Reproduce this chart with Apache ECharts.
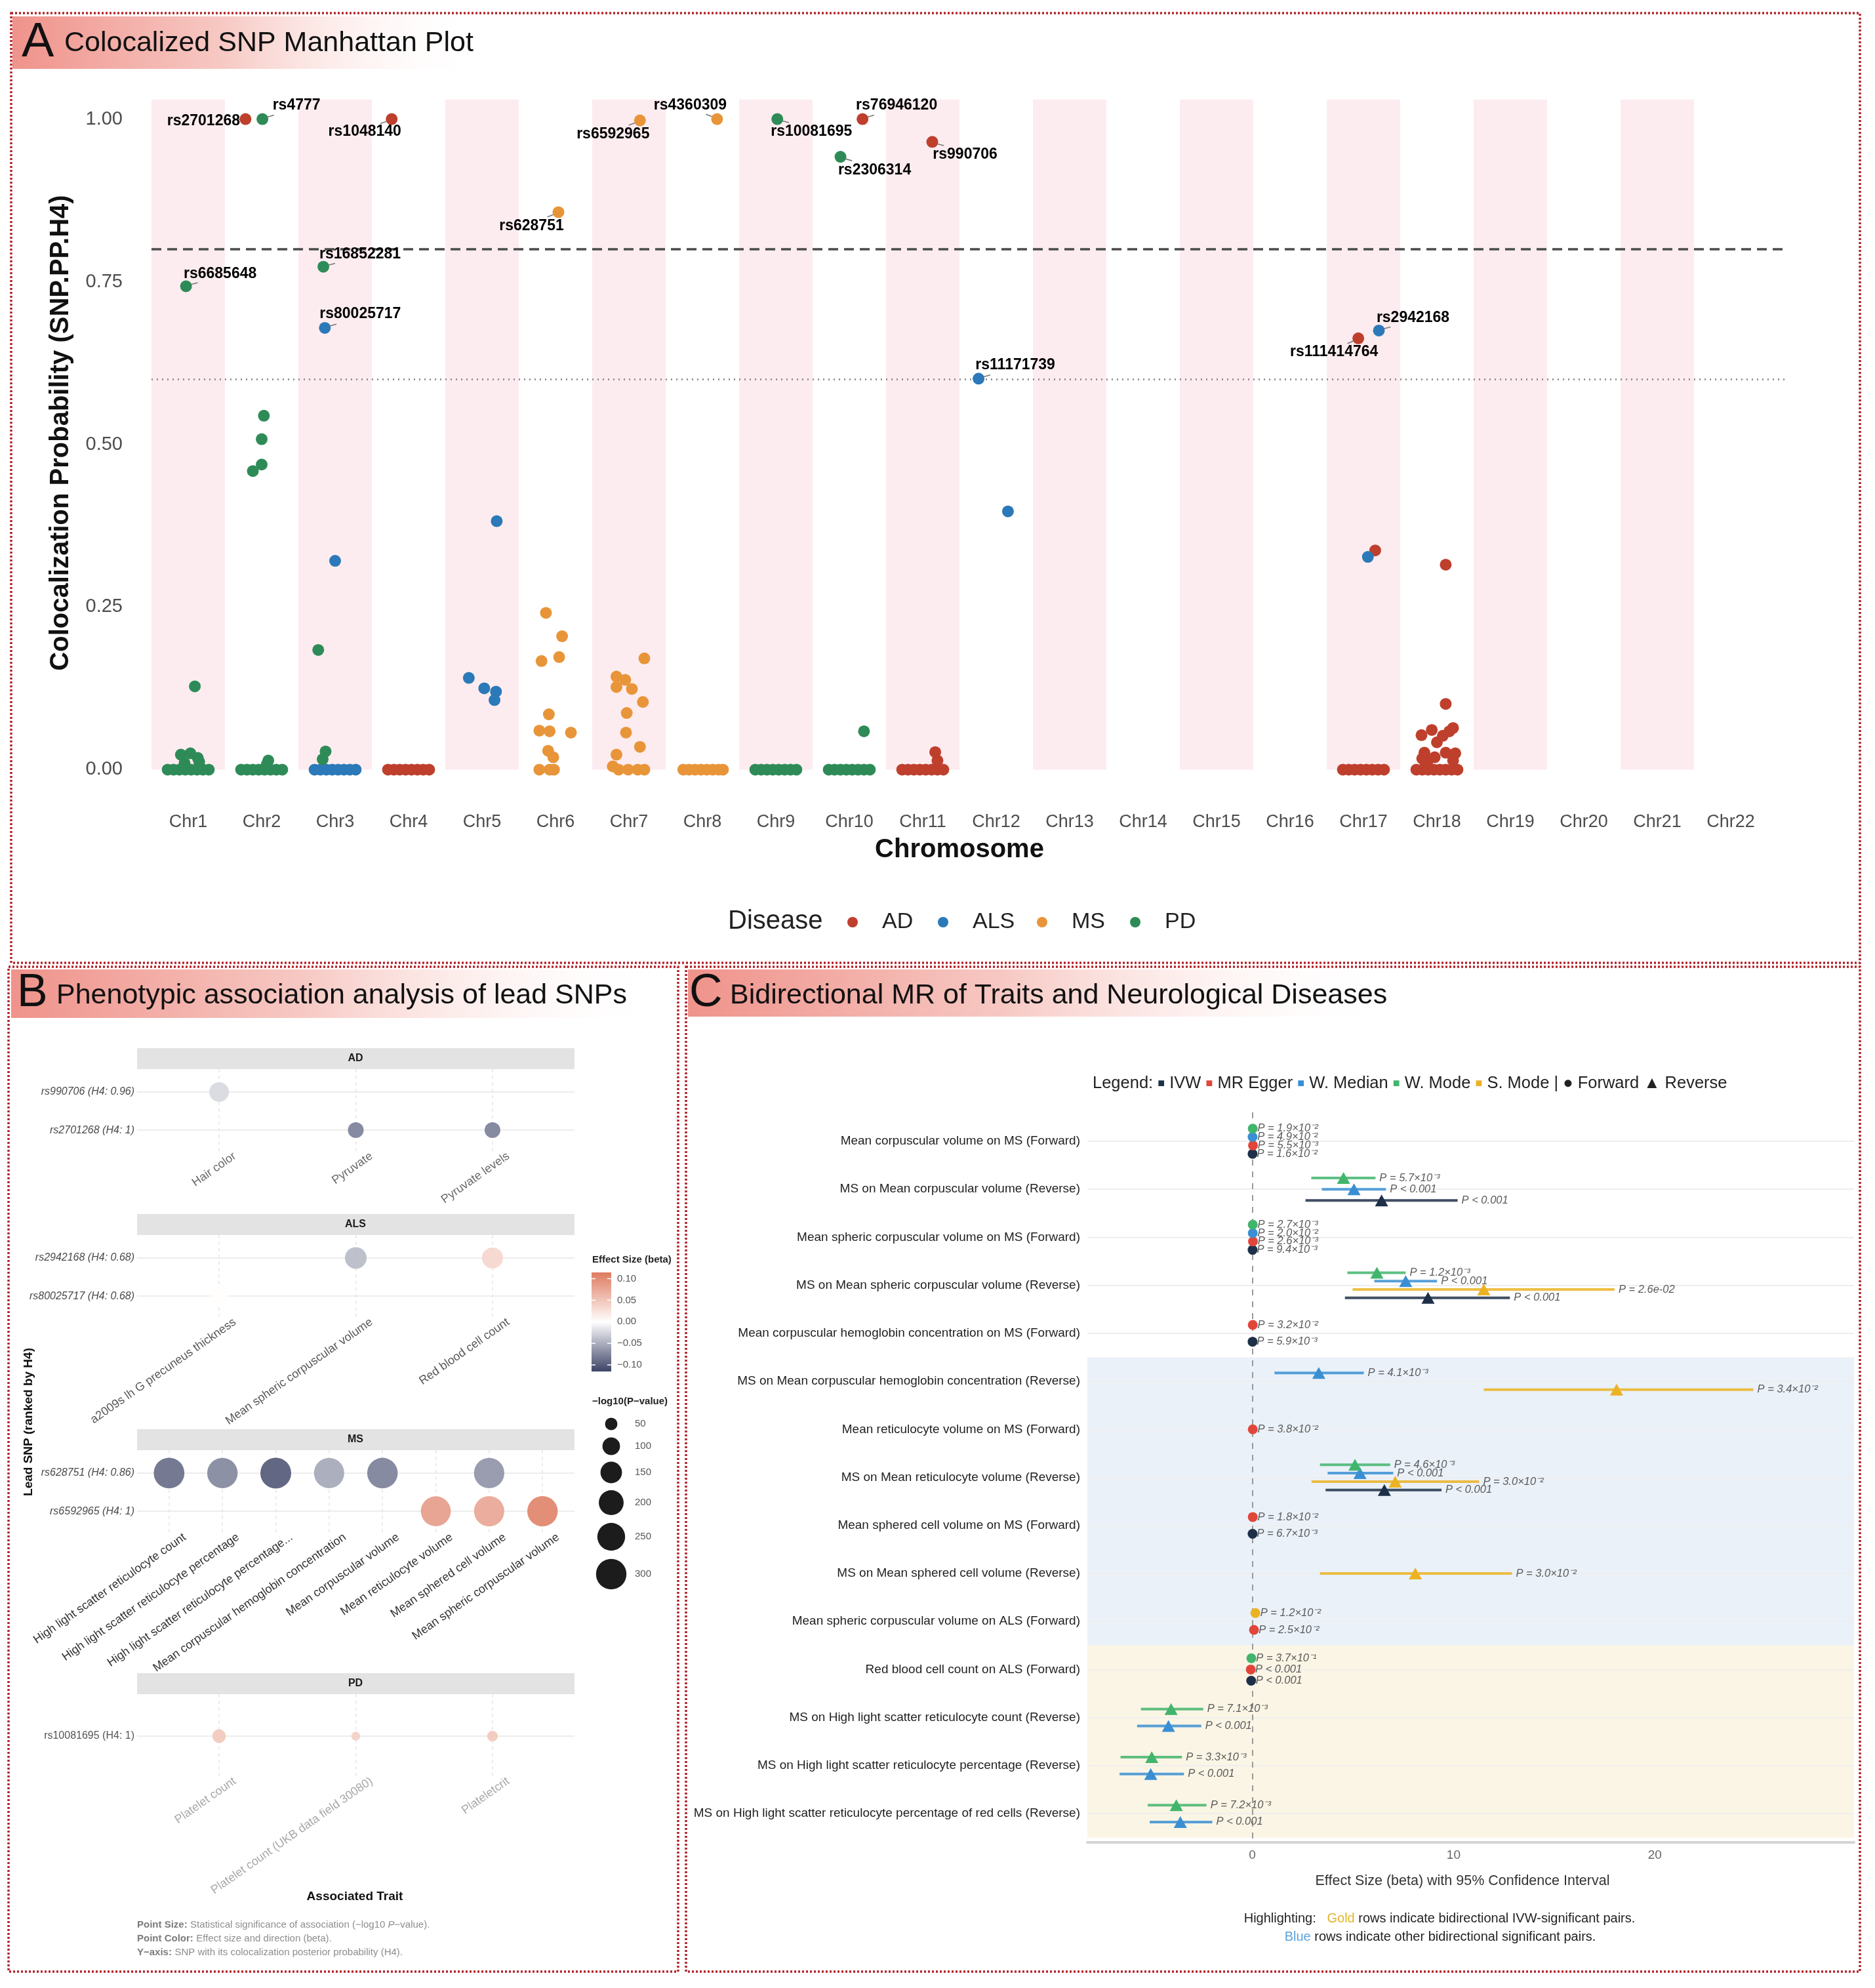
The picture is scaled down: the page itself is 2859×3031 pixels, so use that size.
<!DOCTYPE html>
<html><head><meta charset="utf-8">
<script src="https://cdn.jsdelivr.net/npm/echarts@6/dist/echarts.min.js"></script>
<style>html,body{margin:0;padding:0;background:#fff}#c{width:2859px;height:3031px}</style>
</head><body><div id="c"></div>
<script>
const FONT = '"Liberation Sans", Arial, Helvetica, sans-serif';

/* ================= Panel A data ================= */
const chromosomes = ['Chr1','Chr2','Chr3','Chr4','Chr5','Chr6','Chr7','Chr8','Chr9','Chr10','Chr11','Chr12','Chr13','Chr14','Chr15','Chr16','Chr17','Chr18','Chr19','Chr20','Chr21','Chr22'];
const shadedChromosomes = [1,3,5,7,9,11,13,15,17,19,21];
const diseases = ['AD','ALS','MS','PD'];
const adPoints = [
  [3.72,0],[3.8,0],[3.88,0],[3.96,0],[4.04,0],[4.12,0],[4.2,0],[4.28,0],
  [10.72,0],[10.8,0],[10.88,0],[10.96,0],[11.04,0],[11.12,0],[11.2,0],[11.28,0],[11.17,0.027],[11.2,0.014],
  [16.72,0],[16.8,0],[16.88,0],[16.96,0],[17.04,0],[17.12,0],[17.2,0],[17.28,0],[17.16,0.337],
  [17.72,0],[17.8,0],[17.88,0],[17.96,0],[18.04,0],[18.12,0],[18.2,0],[18.28,0],
  [18.12,0.315],[18.12,0.101],[17.79,0.053],[17.93,0.061],[18.22,0.064],[18.17,0.059],[18.08,0.052],[18.0,0.042],
  [17.83,0.026],[18.12,0.026],[18.25,0.025],[17.8,0.017],[17.97,0.019],[18.22,0.014],[17.87,0.012]
];
const alsPoints = [
  [2.72,0],[2.8,0],[2.88,0],[2.96,0],[3.04,0],[3.12,0],[3.2,0],[3.28,0],[3.0,0.321],
  [5.2,0.382],[4.82,0.141],[5.03,0.125],[5.19,0.12],[5.17,0.107],
  [12.16,0.397],[17.06,0.327]
];
const msPoints = [
  [5.87,0.241],[6.09,0.205],[5.81,0.167],[6.05,0.173],[5.91,0.085],[5.78,0.06],[5.92,0.059],[6.21,0.057],[5.9,0.029],[5.97,0.019],[5.78,0],[5.92,0],[5.98,0],
  [6.83,0.143],[6.95,0.138],[6.83,0.127],[7.04,0.124],[7.21,0.171],[7.19,0.104],[6.97,0.087],[6.96,0.057],[7.15,0.035],[6.83,0.023],[6.78,0.005],[6.86,0],[6.99,0],[7.12,0],[7.21,0],
  [7.74,0],[7.82,0],[7.9,0],[7.98,0],[8.06,0],[8.14,0],[8.22,0],[8.28,0]
];
const pdPoints = [
  [0.72,0],[0.8,0],[0.88,0],[0.96,0],[1.04,0],[1.12,0],[1.2,0],[1.28,0],
  [1.09,0.128],[0.9,0.023],[1.03,0.025],[1.13,0.018],[1.15,0.012],[0.95,0.01],
  [1.72,0],[1.8,0],[1.88,0],[1.96,0],[2.04,0],[2.12,0],[2.2,0],[2.28,0],
  [1.88,0.459],[2.0,0.469],[2.0,0.508],[2.03,0.544],[2.09,0.014],[2.07,0.008],
  [2.77,0.184],[2.87,0.028],[2.83,0.016],
  [8.72,0],[8.8,0],[8.88,0],[8.96,0],[9.04,0],[9.12,0],[9.2,0],[9.28,0],
  [9.72,0],[9.8,0],[9.88,0],[9.96,0],[10.04,0],[10.12,0],[10.2,0],[10.28,0],[10.2,0.059]
];
const leadNames   = ['rs2701268','rs4777','rs1048140','rs6592965','rs4360309','rs10081695','rs76946120','rs2306314','rs990706','rs628751','rs16852281','rs6685648','rs80025717','rs11171739','rs111414764','rs2942168'];
const leadDisease = ['AD','PD','AD','MS','MS','PD','AD','PD','AD','MS','PD','PD','ALS','ALS','AD','ALS'];
const leadX       = [1.78,2.01,3.77,7.15,8.2,9.02,10.18,9.88,11.13,6.04,2.84,0.97,2.86,11.76,16.93,17.21];
const leadY       = [1.0,1.0,1.0,0.998,1.0,1.0,1.0,0.942,0.965,0.857,0.773,0.743,0.679,0.601,0.663,0.675];

/* ================= Panel B data ================= */
const adSnps = ['rs990706 (H4: 0.96)','rs2701268 (H4: 1)'];
const adTraits = ['Hair color','Pyruvate','Pyruvate levels'];
const adAssoc = [[1,1,125,-0.02],[2,2,80,-0.065],[3,2,80,-0.065]];            // [trait, snp, -log10P, beta]
const alsSnps = ['rs2942168 (H4: 0.68)','rs80025717 (H4: 0.68)'];
const alsTraits = ['a2009s lh G precuneus thickness','Mean spheric corpuscular volume','Red blood cell count'];
const alsAssoc = [[1,2,120,0.001],[2,1,152,-0.035],[3,1,142,0.03]];
const msSnps = ['rs628751 (H4: 0.86)','rs6592965 (H4: 1)'];
const msTraits = ['High light scatter reticulocyte count','High light scatter reticulocyte percentage','High light scatter reticulocyte percentage...','Mean corpuscular hemoglobin concentration','Mean corpuscular volume','Mean reticulocyte volume','Mean sphered cell volume','Mean spheric corpuscular volume'];
const msAssoc = [[1,1,305,-0.075],[2,1,300,-0.062],[3,1,308,-0.085],[4,1,296,-0.045],[5,1,302,-0.065],[7,1,298,-0.055],[6,2,290,0.072],[7,2,296,0.065],[8,2,300,0.09]];
const pdSnps = ['rs10081695 (H4: 1)'];
const pdTraits = ['Platelet count','Platelet count (UKB data field 30080)','Plateletcrit'];
const pdAssoc = [[1,1,60,0.04],[2,1,25,0.035],[3,1,36,0.04]];
const effectTicks = [0.10,0.05,0.00,-0.05,-0.10];
const sizeTicks = [50,100,150,200,250,300];

/* ================= Panel C data ================= */
const mrRows = [
  'Mean corpuscular volume on MS (Forward)',
  'MS on Mean corpuscular volume (Reverse)',
  'Mean spheric corpuscular volume on MS (Forward)',
  'MS on Mean spheric corpuscular volume (Reverse)',
  'Mean corpuscular hemoglobin concentration on MS (Forward)',
  'MS on Mean corpuscular hemoglobin concentration (Reverse)',
  'Mean reticulocyte volume on MS (Forward)',
  'MS on Mean reticulocyte volume (Reverse)',
  'Mean sphered cell volume on MS (Forward)',
  'MS on Mean sphered cell volume (Reverse)',
  'Mean spheric corpuscular volume on ALS (Forward)',
  'Red blood cell count on ALS (Forward)',
  'MS on High light scatter reticulocyte count (Reverse)',
  'MS on High light scatter reticulocyte percentage (Reverse)',
  'MS on High light scatter reticulocyte percentage of red cells (Reverse)'
];
const blueRows = [6,7,8,9,10,11];
const goldRows = [12,13,14,15];
const mrMethods = ['IVW','MR Egger','W. Median','W. Mode','S. Mode'];
const estRow    = [1,1,1,1, 2,2,2, 3,3,3,3, 4,4,4,4, 5,5, 6,6, 7, 8,8,8,8, 9,9, 10, 11,11, 12,12,12, 13,13, 14,14, 15,15];
const estMethod = ['W. Mode','W. Median','MR Egger','IVW', 'W. Mode','W. Median','IVW', 'W. Mode','W. Median','MR Egger','IVW',
  'W. Mode','W. Median','S. Mode','IVW', 'MR Egger','IVW', 'W. Median','S. Mode', 'MR Egger', 'W. Mode','W. Median','S. Mode','IVW',
  'MR Egger','IVW', 'S. Mode', 'S. Mode','MR Egger', 'W. Mode','MR Egger','IVW', 'W. Mode','W. Median', 'W. Mode','W. Median', 'W. Mode','W. Median'];
const estBeta = [0.02,0.01,0.03,0.01, 4.53,5.05,6.42, 0.02,0.02,0.03,0.01, 6.19,7.62,11.5,8.73, 0.02,0.01, 3.3,18.1, 0.02, 5.1,5.35,7.1,6.56,
  0.02,0.01, 8.1, 0.15,0.08, -0.05,-0.08,-0.06, -4.04,-4.17, -5.0,-5.05, -3.78,-3.58];
const estLow = [-0.02,-0.03,-0.01,-0.01, 2.93,3.45,2.64, -0.02,-0.02,-0.01,-0.01, 4.72,6.06,4.98,4.6, -0.02,-0.01, 1.1,11.5, -0.02, 3.36,3.74,2.94,3.64,
  -0.02,-0.01, 3.36, 0.1,0.04, -0.09,-0.11,-0.09, -5.54,-5.73, -6.55,-6.6, -5.2,-5.1];
const estHigh = [0.06,0.05,0.07,0.03, 6.12,6.64,10.2, 0.06,0.06,0.07,0.03, 7.62,9.18,18.0,12.8, 0.06,0.03, 5.54,24.9, 0.06, 6.85,7.0,11.27,9.4,
  0.06,0.03, 12.9, 0.2,0.12, -0.01,-0.05,-0.03, -2.44,-2.54, -3.5,-3.4, -2.28,-1.99];
const estP = ['P = 1.9×10⁻²','P = 4.9×10⁻²','P = 5.5×10⁻³','P = 1.6×10⁻²', 'P = 5.7×10⁻³','P < 0.001','P < 0.001',
  'P = 2.7×10⁻³','P = 2.0×10⁻²','P = 2.6×10⁻³','P = 9.4×10⁻³', 'P = 1.2×10⁻³','P < 0.001','P = 2.6e-02','P < 0.001',
  'P = 3.2×10⁻²','P = 5.9×10⁻³', 'P = 4.1×10⁻³','P = 3.4×10⁻²', 'P = 3.8×10⁻²', 'P = 4.6×10⁻³','P < 0.001','P = 3.0×10⁻²','P < 0.001',
  'P = 1.8×10⁻²','P = 6.7×10⁻³', 'P = 3.0×10⁻²', 'P = 1.2×10⁻²','P = 2.5×10⁻²', 'P = 3.7×10⁻¹','P < 0.001','P < 0.001',
  'P = 7.1×10⁻³','P < 0.001', 'P = 3.3×10⁻³','P < 0.001', 'P = 7.2×10⁻³','P < 0.001'];
const xTicksC = [0,10,20];

/* ================= styles ================= */
const diseaseColors = {AD:'#BF3F2D', ALS:'#2B79B8', MS:'#E8953A', PD:'#2E8B57'};
const methodColors = {'IVW':'#1E3048','MR Egger':'#E2463A','W. Median':'#3A8FD3','W. Mode':'#42B56D','S. Mode':'#EBB324'};
const labelOffsets = {rs2701268:[-64,3], rs4777:[52,-21], rs1048140:[-41,19], rs6592965:[-41,21], rs4360309:[-41,-21],
  rs10081695:[52,19], rs76946120:[52,-21], rs2306314:[52,21], rs990706:[50,19], rs628751:[-41,21], rs16852281:[56,-19],
  rs6685648:[52,-19], rs80025717:[54,-21], rs11171739:[56,-21], rs111414764:[-37,21], rs2942168:[52,-19]};
const sizeOf = v => 2.68 * Math.sqrt(v);
const effectColors = ['#3D4466','#FFFFFF','#DE7B60'];

const chart = echarts.init(document.getElementById('c'), null, {renderer:'canvas', width:2859, height:3031});

function vAxis(extra){ return Object.assign({type:'value', axisLine:{show:false,onZero:false}, axisTick:{show:false}, splitLine:{show:false}}, extra); }

const grids = [
  {left:231, top:132, width:2492, height:1091},
  {left:209, top:1630, width:667, height:128},
  {left:209, top:1883, width:667, height:128},
  {left:209, top:2211, width:667, height:128},
  {left:209, top:2583, width:667, height:128},
  {left:1658, top:1696, width:1169, height:1113}
];
const xAxes = [], yAxes = [];
// A
xAxes.push(vAxis({gridIndex:0, min:0.5, max:22.75,
  axisLabel:{customValues:chromosomes.map((c,i)=>i+1), formatter:v=>chromosomes[Math.round(v)-1], fontSize:27, color:'#4D4D4D', margin:17, fontFamily:FONT}}));
yAxes.push(vAxis({gridIndex:0, min:-0.05, max:1.05,
  axisLabel:{customValues:[0,0.25,0.5,0.75,1], formatter:v=>v.toFixed(2), fontSize:29, color:'#4D4D4D', margin:44, fontFamily:FONT}}));
// B
const facets = [
  {name:'AD', snps:adSnps, traits:adTraits, assoc:adAssoc, xc:'#6A6A6A', yc:'#4A4A4A', yi:'italic'},
  {name:'ALS', snps:alsSnps, traits:alsTraits, assoc:alsAssoc, xc:'#585858', yc:'#4A4A4A', yi:'italic'},
  {name:'MS', snps:msSnps, traits:msTraits, assoc:msAssoc, xc:'#333333', yc:'#4A4A4A', yi:'italic'},
  {name:'PD', snps:pdSnps, traits:pdTraits, assoc:pdAssoc, xc:'#A8A8A8', yc:'#555555', yi:'normal'}
];
const LABEL_SHIFT_PX = 24;   // rotated tick labels are anchored a little right of the tick (ggplot hjust/vjust)
facets.forEach((f,i)=>{
  const n = f.traits.length;
  const shift = LABEL_SHIFT_PX * (n + 0.2) / grids[i+1].width;
  xAxes.push(vAxis({gridIndex:i+1, min:0.4, max:n+0.6,
    axisLabel:{customValues:f.traits.map((t,j)=>j+1+shift), formatter:v=>f.traits[Math.round(v-shift)-1], rotate:35, fontSize:18, color:f.xc, margin:3, fontFamily:FONT, showMinLabel:true, showMaxLabel:true}}));
  yAxes.push(vAxis({gridIndex:i+1, inverse:true, min:0.4, max:f.snps.length+0.6,
    axisLabel:{customValues:f.snps.map((t,j)=>j+1), formatter:v=>f.snps[Math.round(v)-1], fontSize:16, fontStyle:f.yi, color:f.yc, margin:4, fontFamily:FONT}}));
});
// C
xAxes.push(vAxis({gridIndex:5, min:-8.2, max:29.9, axisLine:{show:true, onZero:false, lineStyle:{color:'#D4D4D4', width:4}},
  axisLabel:{customValues:xTicksC, fontSize:19, color:'#666', margin:10, fontFamily:FONT}}));
yAxes.push(vAxis({gridIndex:5, inverse:true, min:0.4, max:mrRows.length+0.6,
  axisLabel:{customValues:mrRows.map((r,i)=>i+1), formatter:v=>mrRows[Math.round(v)-1], fontSize:19, color:'#1E1E1E', margin:11, fontFamily:FONT}}));

const series = [];
/* ---- A ---- */
series.push({type:'scatter', xAxisIndex:0, yAxisIndex:0, data:[], z:1, silent:true,
  markArea:{silent:true, itemStyle:{color:'#FDECEF'}, data: shadedChromosomes.map(k=>[{xAxis:k-0.5,yAxis:0},{xAxis:k+0.5,yAxis:1.03}])},
  markLine:{silent:true, symbol:['none','none'], label:{show:false}, data:[
    {yAxis:0.8, lineStyle:{type:[15,9], color:'#4A4A4A', width:3.5}},
    {yAxis:0.6, lineStyle:{type:[2,6], color:'#808080', width:2.5}}]}
});
const pointsByDisease = {AD:adPoints, ALS:alsPoints, MS:msPoints, PD:pdPoints};
diseases.forEach(d=>{
  const data = pointsByDisease[d].map(p=>p.slice());
  leadNames.forEach((n,i)=>{
    if (leadDisease[i]!==d) return;
    data.push({value:[leadX[i], leadY[i]], name:n,
      label:{show:true, position:'inside', offset:labelOffsets[n], formatter:'{b}', fontSize:23, fontWeight:'bold', color:'#000', fontFamily:FONT}});
  });
  series.push({name:d, type:'scatter', xAxisIndex:0, yAxisIndex:0, z:10, symbolSize:18, itemStyle:{color:diseaseColors[d], opacity:1}, data});
});
// leader segments
series.push({type:'custom', xAxisIndex:0, yAxisIndex:0, z:9, silent:true,
  data: leadNames.map((n,i)=>[leadX[i], leadY[i], i]),
  renderItem:(params, api)=>{
    const p = api.coord([api.value(0), api.value(1)]);
    const off = labelOffsets[leadNames[api.value(2)]];
    const L = Math.hypot(off[0], off[1]); const ux = off[0]/L, uy = off[1]/L;
    return {type:'line', shape:{x1:p[0]+ux*8, y1:p[1]+uy*8, x2:p[0]+ux*19, y2:p[1]+uy*16}, style:{stroke:'#777', lineWidth:1.6}};
  }});

/* ---- B ---- */
const bDataSeries = [];
facets.forEach((f,i)=>{
  series.push({type:'scatter', xAxisIndex:i+1, yAxisIndex:i+1, data:[], z:1, silent:true,
    markLine:{silent:true, z:1, symbol:['none','none'], label:{show:false}, data:[
      ...f.snps.map((s,j)=>({yAxis:j+1, lineStyle:{color:'#EDEDED', width:2, type:'solid'}})),
      ...f.traits.map((t,j)=>({xAxis:j+1, lineStyle:{color:'#E6E6E6', width:1.5, type:[5,5]}}))]}
  });
  bDataSeries.push(series.length);
  series.push({type:'scatter', xAxisIndex:i+1, yAxisIndex:i+1, z:10, data:f.assoc.map(a=>a.slice()),
    symbolSize:v=>sizeOf(v[2]), itemStyle:{opacity:0.95}});
});

/* ---- C ---- */
series.push({type:'scatter', xAxisIndex:5, yAxisIndex:5, data:[], z:1, silent:true,
  markArea:{silent:true, data:[
    [{yAxis:Math.min(...blueRows)-0.5, itemStyle:{color:'#EAF1F9'}},{yAxis:Math.max(...blueRows)+0.5}],
    [{yAxis:Math.min(...goldRows)-0.5, itemStyle:{color:'#FBF5E5'}},{yAxis:Math.max(...goldRows)+0.5}]]},
  markLine:{silent:true, z:2, symbol:['none','none'], label:{show:false}, data:[
    ...mrRows.map((r,i)=>({yAxis:i+1, lineStyle:{color:'#EEEEEE', width:2, type:'solid'}})),
    {xAxis:0, lineStyle:{color:'#9A9A9A', width:2, type:[9,9]}}]}
});
// dodge positions
const methodOrder = ['W. Mode','W. Median','S. Mode','MR Egger','IVW'];
const estY = estRow.map((r,i)=>{
  const same = estRow.map((rr,j)=>rr===r?j:-1).filter(j=>j>=0).sort((a,b)=>methodOrder.indexOf(estMethod[a])-methodOrder.indexOf(estMethod[b]));
  const n = same.length, k = same.indexOf(i);
  return r + (k-(n-1)/2)*(0.7/n);
});
series.push({type:'custom', xAxisIndex:5, yAxisIndex:5, z:10, silent:true,
  data: estRow.map((r,i)=>[estLow[i], estHigh[i], estY[i], i]),
  encode:{x:[0,1], y:2},
  renderItem:(params, api)=>{
    const i = api.value(3);
    const a = api.coord([api.value(0), api.value(2)]), b = api.coord([api.value(1), api.value(2)]);
    return {type:'group', children:[
      {type:'line', shape:{x1:a[0],y1:a[1],x2:b[0],y2:b[1]}, style:{stroke:methodColors[estMethod[i]], lineWidth:4, opacity:0.85}},
      {type:'text', x:b[0]+6, y:b[1], style:{text:estP[i], fill:'#5A5A5A', fontSize:16.5, fontStyle:'italic', fontFamily:FONT, align:'left', verticalAlign:'middle'}}
    ]};
  }});
mrMethods.forEach(m=>{
  const data = [];
  estRow.forEach((r,i)=>{
    if (estMethod[i]!==m) return;
    const rev = /\(Reverse\)$/.test(mrRows[r-1]);
    data.push({value:[estBeta[i], estY[i]], symbol: rev?'triangle':'circle', symbolSize: rev?[20,18]:15});
  });
  series.push({name:m, type:'scatter', xAxisIndex:5, yAxisIndex:5, z:11, data, itemStyle:{color:methodColors[m], opacity:1}});
});

/* ================= graphics ================= */
function T(x,y,text,o){ return {type:'text', x, y, silent:true, style:Object.assign({text, fill:'#111', fontSize:16, fontFamily:FONT, align:'left', verticalAlign:'middle', textAlign:'left', textVerticalAlign:'middle'}, o||{})}; }
function border(x,y,w,h){ return {type:'rect', silent:true, shape:{x,y,width:w,height:h}, style:{fill:null, stroke:'#B22228', lineWidth:3.5, lineDash:[3,3]}}; }
function titleBox(x,y,w,h){ return {type:'rect', silent:true, shape:{x,y,width:w,height:h}, style:{fill:new echarts.graphic.LinearGradient(0,0,1,0,[{offset:0,color:'#EF938B'},{offset:0.45,color:'#F7C9C4'},{offset:1,color:'rgba(255,255,255,0)'}])}}; }
const g = [];
g.push(border(17,20,2819,1448), border(13,1474,1021,1532), border(1046,1474,1790,1532));
// titles
g.push(titleBox(19,25,718,80), T(33,66,'A',{fontSize:74}), T(98,66,'Colocalized SNP Manhattan Plot',{fontSize:43}));
g.push(titleBox(17,1478,1000,74), T(26,1515,'B',{fontSize:70}), T(86,1518,'Phenotypic association analysis of lead SNPs',{fontSize:43}));
g.push(titleBox(1049,1478,1080,72), T(1051,1515,'C',{fontSize:70}), T(1113,1518,'Bidirectional MR of Traits and Neurological Diseases',{fontSize:43}));
// A axis titles & legend
g.push({type:'text', x:93, y:660, rotation:Math.PI/2, silent:true, style:{text:'Colocalization Probability (SNP.PP.H4)', fill:'#111', fontSize:40, fontWeight:'bold', fontFamily:FONT, align:'center', verticalAlign:'middle', textAlign:'center', textVerticalAlign:'middle'}});
g.push(T(1463,1296,'Chromosome',{fontSize:40, fontWeight:'bold', align:'center', textAlign:'center'}));
g.push(T(1110,1405,'Disease',{fontSize:40, fill:'#222'}));
const legendDotX = [1300,1438,1589,1731];
diseases.forEach((d,i)=>{
  g.push({type:'circle', silent:true, shape:{cx:legendDotX[i], cy:1406, r:8}, style:{fill:diseaseColors[d]}});
  g.push(T(legendDotX[i]+45,1406,d,{fontSize:34, fill:'#222'}));
});
// B strips
facets.forEach((f,i)=>{
  const top = grids[i+1].top;
  g.push({type:'rect', silent:true, shape:{x:209,y:top-32,width:667,height:32}, style:{fill:'#E3E3E3'}});
  g.push(T(542,top-16,f.name,{fontSize:16, fontWeight:'bold', align:'center', textAlign:'center', fill:'#1A1A1A'}));
});
g.push({type:'text', x:44, y:2168, rotation:Math.PI/2, silent:true, style:{text:'Lead SNP (ranked by H4)', fill:'#111', fontSize:19, fontWeight:'bold', fontFamily:FONT, align:'center', verticalAlign:'middle', textAlign:'center', textVerticalAlign:'middle'}});
g.push(T(541,2892,'Associated Trait',{fontSize:19, fontWeight:'bold', align:'center', textAlign:'center'}));
const fnRich = {b:{fontWeight:'bold', fill:'#7C7C7C', fontSize:15, fontFamily:FONT}, t:{fill:'#8E8E8E', fontSize:15, fontFamily:FONT}, i:{fill:'#8E8E8E', fontSize:15, fontStyle:'italic', fontFamily:FONT}};
g.push(T(209,2935,'{b|Point Size:} {t|Statistical significance of association (−log10 }{i|P}{t|−value).}',{rich:fnRich}));
g.push(T(209,2956,'{b|Point Color:} {t|Effect size and direction (beta).}',{rich:fnRich}));
g.push(T(209,2977,'{b|Y−axis:} {t|SNP with its colocalization posterior probability (H4).}',{rich:fnRich}));
// B effect legend
g.push(T(903,1921,'Effect Size (beta)',{fontSize:15, fontWeight:'bold', fill:'#222'}));
g.push({type:'rect', silent:true, shape:{x:902,y:1940,width:30,height:151}, style:{fill:new echarts.graphic.LinearGradient(0,0,0,1,[{offset:0,color:effectColors[2]},{offset:0.5,color:effectColors[1]},{offset:1,color:effectColors[0]}])}});
effectTicks.forEach(v=>{
  const y = 1949.5 + (0.1-v)/0.2*131.5;
  g.push({type:'line', silent:true, shape:{x1:902,y1:y,x2:908,y2:y}, style:{stroke:'#fff', lineWidth:1.5}});
  g.push({type:'line', silent:true, shape:{x1:926,y1:y,x2:932,y2:y}, style:{stroke:'#fff', lineWidth:1.5}});
  g.push(T(941,y,v.toFixed(2).replace('-','−'),{fontSize:15, fill:'#555'}));
});
// B size legend
g.push(T(903,2137,'−log10(P−value)',{fontSize:15, fontWeight:'bold', fill:'#222'}));
const sizeY = [2171,2205,2245,2291,2343,2400];
sizeTicks.forEach((v,i)=>{
  g.push({type:'circle', silent:true, shape:{cx:932, cy:sizeY[i], r:sizeOf(v)/2}, style:{fill:'#1C1C1C'}});
  g.push(T(968,sizeY[i],String(v),{fontSize:15, fill:'#555'}));
});
// C legend and notes
const lgRich = {t:{fill:'#222', fontSize:25.5, fontFamily:FONT}};
mrMethods.forEach((m,i)=>{ lgRich['m'+i] = {fill:methodColors[m], fontSize:18, fontFamily:FONT}; });
g.push(T(1666,1652,'{t|Legend: }{m0|■}{t| IVW }{m1|■}{t| MR Egger }{m2|■}{t| W. Median }{m3|■}{t| W. Mode }{m4|■}{t| S. Mode | ● Forward ▲ Reverse}',{rich:lgRich}));
g.push(T(2230,2868,'Effect Size (beta) with 95% Confidence Interval',{fontSize:21.5, fill:'#333', align:'center', textAlign:'center'}));
const hlRich = {t:{fill:'#222', fontSize:20, fontFamily:FONT}, g:{fill:'#E3B52A', fontSize:20, fontFamily:FONT}, b:{fill:'#5AA2DB', fontSize:20, fontFamily:FONT}};
g.push(T(2195,2925,'{t|Highlighting:   }{g|Gold}{t| rows indicate bidirectional IVW-significant pairs.}',{rich:hlRich, align:'center', textAlign:'center'}));
g.push(T(2196,2953,'{b|Blue}{t| rows indicate other bidirectional significant pairs.}',{rich:hlRich, align:'center', textAlign:'center'}));

const option = {
  backgroundColor:'#ffffff',
  animation:false,
  textStyle:{fontFamily:FONT},
  grid:grids, xAxis:xAxes, yAxis:yAxes, series,
  visualMap:[{type:'continuous', show:false, dimension:3, min:-0.1, max:0.1, seriesIndex:bDataSeries, inRange:{color:effectColors}}],
  graphic:{elements:g}
};
chart.setOption(option);
</script></body></html>
